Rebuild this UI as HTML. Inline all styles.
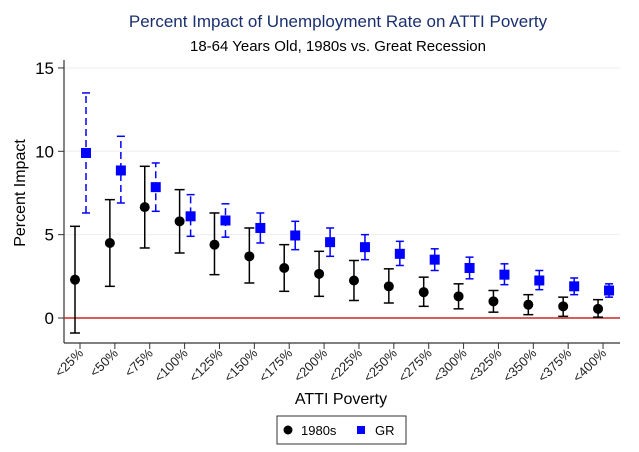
<!DOCTYPE html>
<html><head><meta charset="utf-8"><style>
body{margin:0;background:#fff;}
svg{display:block;font-family:"Liberation Sans",Arial,sans-serif;}
</style></head><body>
<svg id="chart" width="639" height="452" viewBox="0 0 639 452">
<rect width="639" height="452" fill="#fff"/>
<text x="338" y="27" text-anchor="middle" font-size="17" fill="#1a2f6e">Percent Impact of Unemployment Rate on ATTI Poverty</text>
<text x="338" y="51" text-anchor="middle" font-size="15" fill="#000">18-64 Years Old, 1980s vs. Great Recession</text>
<g id="grid"></g>
<g id="axes"></g>
<g id="marks"></g>
<text transform="translate(25,193) rotate(-90)" text-anchor="middle" font-size="16">Percent Impact</text>
<text x="341" y="404" text-anchor="middle" font-size="16">ATTI Poverty</text>
<g>
<rect x="277" y="416" width="129" height="28" fill="#fff" stroke="#333" stroke-width="1"/>
<circle cx="288" cy="430" r="4.5" fill="#000"/>
<text x="301" y="435" font-size="13">1980s</text>
<rect x="357" y="426" width="8" height="8" fill="#0000ff"/>
<text x="375" y="435" font-size="13">GR</text>
</g>
</svg>
<script>
const categories=["<25%","<50%","<75%","<100%","<125%","<150%","<175%","<200%","<225%","<250%","<275%","<300%","<325%","<350%","<375%","<400%"];
const est1980=[2.3,4.5,6.65,5.8,4.4,3.7,3.0,2.65,2.25,1.9,1.55,1.3,1.0,0.8,0.7,0.55];
const lo1980=[-0.9,1.9,4.2,3.9,2.6,2.1,1.6,1.3,1.05,0.9,0.7,0.55,0.35,0.2,0.1,0.05];
const hi1980=[5.5,7.1,9.1,7.7,6.3,5.4,4.4,4.0,3.45,2.95,2.45,2.05,1.65,1.4,1.25,1.1];
const estGR=[9.9,8.85,7.85,6.1,5.85,5.4,4.95,4.55,4.25,3.85,3.5,3.0,2.6,2.25,1.9,1.65];
const loGR=[6.3,6.9,6.4,4.9,4.85,4.5,4.1,3.7,3.5,3.15,2.85,2.35,2.0,1.7,1.4,1.25];
const hiGR=[13.5,10.9,9.3,7.4,6.85,6.3,5.8,5.4,5.0,4.6,4.15,3.65,3.25,2.85,2.4,2.05];
const yTicks=[0,5,10,15];
const NS="http://www.w3.org/2000/svg";
const y=v=>318-v*16.67;
const x=i=>80+i*34.87;
function mk(tag,attrs,parent){const e=document.createElementNS(NS,tag);for(const k in attrs)e.setAttribute(k,attrs[k]);document.getElementById(parent).appendChild(e);return e;}
yTicks.forEach(t=>{
 if(t>0){const g=mk('line',{x1:64,x2:620,y1:y(t),y2:y(t),stroke:'#eeeeee','stroke-width':1},'grid');
 
 }
 const tk=mk('line',{x1:58,x2:64,y1:y(t),y2:y(t),stroke:'#333'},'axes');
 
 
 const l=mk('text',{x:54,y:y(t)+6,'text-anchor':'end','font-size':17},'axes');l.textContent=t;
 
 
});
const ya=mk('line',{x1:64,x2:64,y1:60,y2:343,stroke:'#333','stroke-width':1.2},'axes');


const xa=mk('line',{x1:64,x2:620,y1:343,y2:343,stroke:'#333','stroke-width':1.2},'axes');


const zl=mk('line',{x1:64,x2:620,y1:y(0),y2:y(0),stroke:'#c8282a','stroke-width':1.5},'axes');


categories.forEach((c,i)=>{
 const tk=mk('line',{x1:x(i),x2:x(i),y1:343,y2:349,stroke:'#333'},'axes');
 
 
 const l=mk('text',{x:x(i)+4,y:354,'text-anchor':'end','font-size':13,fill:'#222',transform:`rotate(-45 ${x(i)+4} 354)`},'axes');
 l.textContent=c;
 
 
});
categories.forEach((c,i)=>{
 const xb=x(i)-5;
 const e=mk('line',{x1:xb,x2:xb,y1:y(lo1980[i]),y2:y(hi1980[i]),stroke:'#000','stroke-width':1.5},'marks');
 
 
 [lo1980[i],hi1980[i]].forEach(v=>{const cap=mk('line',{x1:xb-5,x2:xb+5,y1:y(v),y2:y(v),stroke:'#000','stroke-width':1.5},'marks');
 
 });
 const p=mk('circle',{cx:xb,cy:y(est1980[i]),r:5,fill:'#000'},'marks');
 
 
 const xg=x(i)+6;
 const eg=mk('line',{x1:xg,x2:xg,y1:y(loGR[i]),y2:y(hiGR[i]),stroke:'#0000ff','stroke-width':1.5,'stroke-dasharray':i<5?'7,4':'none'},'marks');
 
 
 [loGR[i],hiGR[i]].forEach(v=>{const cap=mk('line',{x1:xg-4,x2:xg+4,y1:y(v),y2:y(v),stroke:'#0000ff','stroke-width':1.5},'marks');
 
 });
 const q=mk('rect',{x:xg-5,y:y(estGR[i])-5,width:10,height:10,fill:'#0000ff'},'marks');
 
 
});
</script>
</body></html>
